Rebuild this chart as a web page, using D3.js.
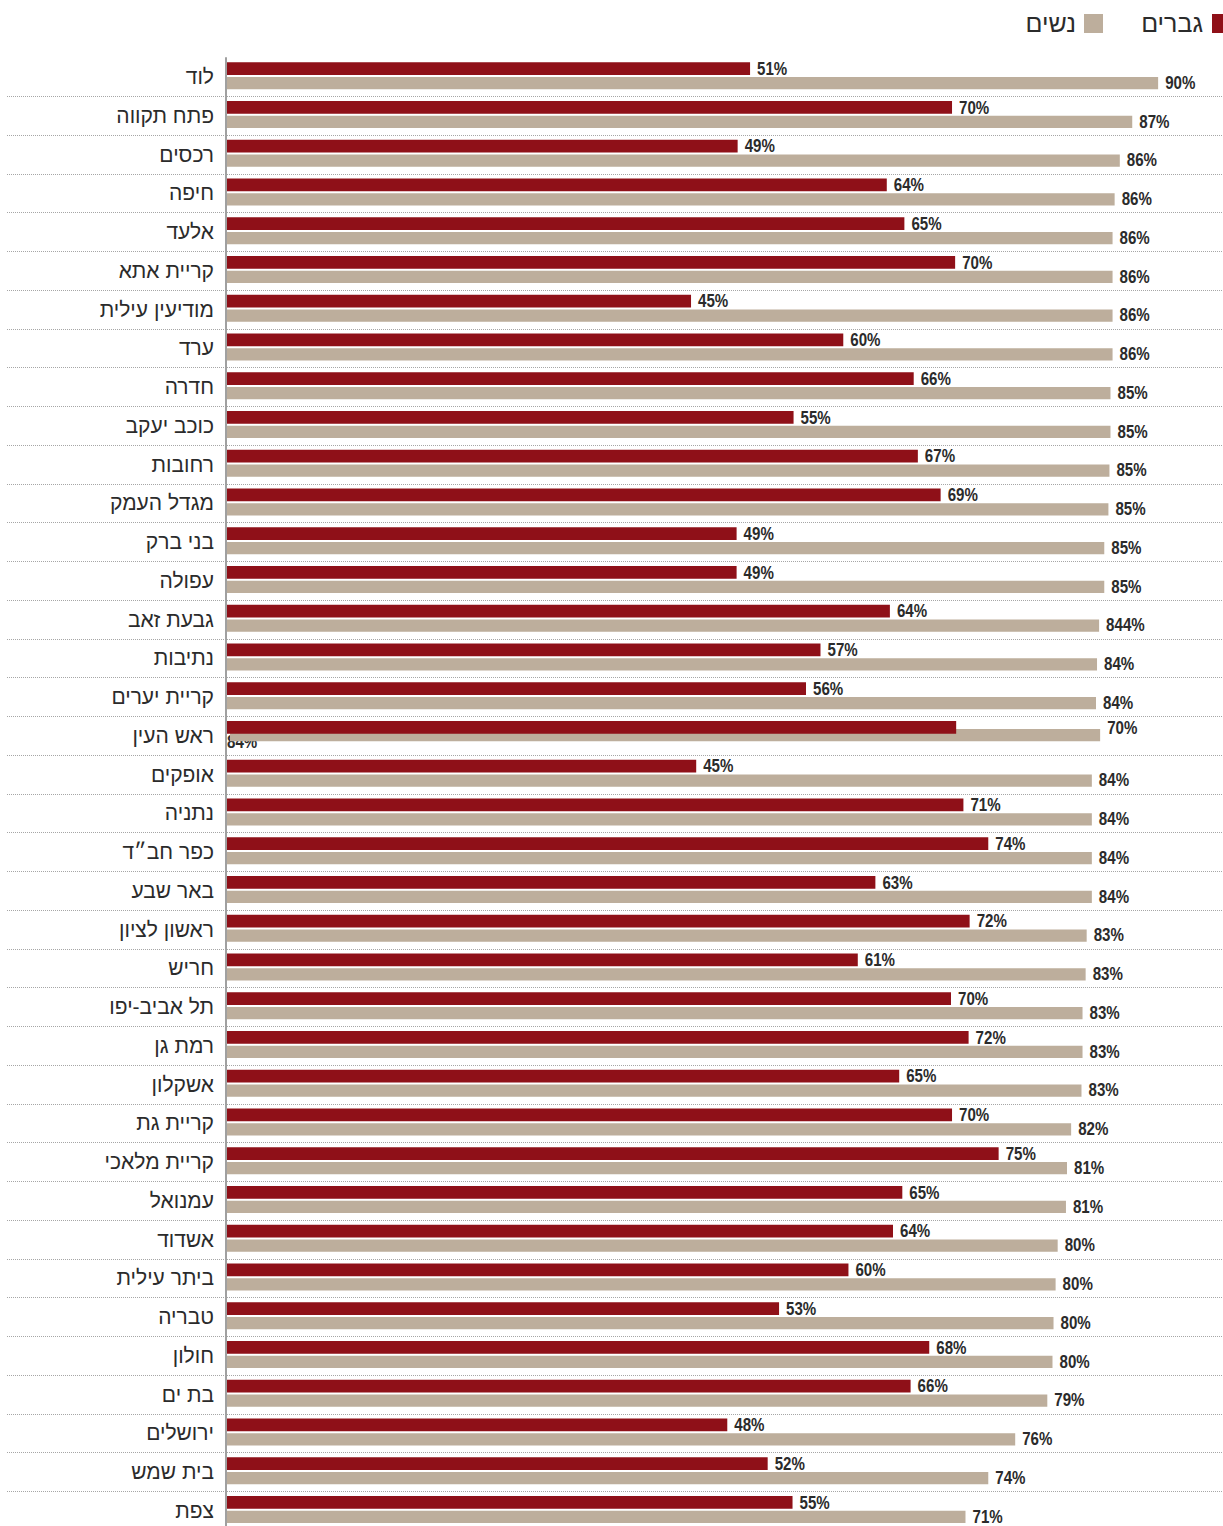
<!DOCTYPE html>
<html lang="he">
<head>
<meta charset="utf-8">
<script src="https://cdn.jsdelivr.net/npm/d3@7"></script>
<style>
  html, body { margin: 0; padding: 0; background: #fff; }
  svg { display: block; }
</style>
</head>
<body>
<script>
// ---------- DATA ----------
const cities = ["לוד","פתח תקווה","רכסים","חיפה","אלעד","קריית אתא","מודיעין עילית","ערד","חדרה","כוכב יעקב",
  "רחובות","מגדל העמק","בני ברק","עפולה","גבעת זאב","נתיבות","קריית יערים","ראש העין","אופקים","נתניה",
  "כפר חב״ד","באר שבע","ראשון לציון","חריש","תל אביב-יפו","רמת גן","אשקלון","קריית גת","קריית מלאכי","עמנואל",
  "אשדוד","ביתר עילית","טבריה","חולון","בת ים","ירושלים","בית שמש","צפת"];

const menValues = [50.6,70.1,49.4,63.8,65.5,70.4,44.9,59.6,66.4,54.8,
  66.8,69.0,49.3,49.3,64.1,57.4,56.0,70.5,45.4,71.2,
  73.6,62.7,71.8,61.0,70.0,71.7,65.0,70.1,74.6,65.3,
  64.4,60.1,53.4,67.9,66.1,48.4,52.3,54.7];

const womenValues = [90.0,87.5,86.3,85.8,85.6,85.6,85.6,85.6,85.4,85.4,
  85.3,85.2,84.8,84.8,84.3,84.1,84.0,84.4,83.6,83.6,
  83.6,83.6,83.1,83.0,82.7,82.7,82.6,81.6,81.2,81.1,
  80.3,80.1,79.9,79.8,79.3,76.2,73.6,71.4];

const menLabels = ["51%","70%","49%","64%","65%","70%","45%","60%","66%","55%",
  "67%","69%","49%","49%","64%","57%","56%","70%","45%","71%",
  "74%","63%","72%","61%","70%","72%","65%","70%","75%","65%",
  "64%","60%","53%","68%","66%","48%","52%","55%"];

const womenLabels = ["90%","87%","86%","86%","86%","86%","86%","86%","85%","85%",
  "85%","85%","85%","85%","844%","84%","84%","84%","84%","84%",
  "84%","84%","83%","83%","83%","83%","83%","82%","81%","81%",
  "80%","80%","80%","80%","79%","76%","74%","71%"];

const seriesNames = ["גברים","נשים"];
const seriesColors = ["#8f1018","#bdae9c"];

// row whose labels were misplaced in the original graphic
const misplacedRow = "ראש העין";

// ---------- LAYOUT ----------
const W = 1223, H = 1526;
const axisX = 226;
const plotTop = 57.25, band = 38.75;

const svg = d3.select("body").append("svg").attr("width", W).attr("height", H);

const x = d3.scaleLinear().domain([0, 100]).range([axisX, axisX + 1035.7]);
const y = d3.scaleBand().domain(cities).range([plotTop, plotTop + band * cities.length]).padding(0);

const rows = cities.map((c, i) => ({
  city: c, i, men: menValues[i], women: womenValues[i],
  menLabel: menLabels[i], womenLabel: womenLabels[i]
}));

// dotted separators
svg.append("g").selectAll("line")
  .data(rows.slice(0, -1))
  .join("line")
  .attr("x1", 7).attr("x2", W)
  .attr("y1", d => Math.round(y(d.city) + y.bandwidth()) + 0.5)
  .attr("y2", d => Math.round(y(d.city) + y.bandwidth()) + 0.5)
  .attr("stroke", "#a6a6a6")
  .attr("stroke-width", 1)
  .attr("stroke-dasharray", "1,1");

const valFont = "'Liberation Sans', Arial, sans-serif";
const squeeze = 0.84;
function valText(sel, fx, fy) {
  sel.attr("transform", d => `translate(${fx(d)},${fy(d)}) scale(${squeeze},1)`)
    .attr("font-family", valFont).attr("font-weight", "bold")
    .attr("font-size", 18).attr("fill", "#2b2b2b");
}

// misplaced women label (drawn under the bars)
svg.append("g").selectAll("text")
  .data(rows.filter(d => d.city === misplacedRow))
  .join("text")
  .call(valText, () => x(0) + 1, d => y(d.city) + 32)
  .text(d => d.womenLabel);

// women bars
svg.append("g").selectAll("rect")
  .data(rows)
  .join("rect")
  .attr("x", d => d.city === misplacedRow ? x(0) + 4 : x(0))
  .attr("y", d => y(d.city) + (d.city === misplacedRow ? 13 : 19.75))
  .attr("width", d => x(d.women) - (d.city === misplacedRow ? x(0) + 4 : x(0)))
  .attr("height", 12.25)
  .attr("fill", seriesColors[1]);

// men bars
svg.append("g").selectAll("rect")
  .data(rows)
  .join("rect")
  .attr("x", x(0))
  .attr("y", d => y(d.city) + 5)
  .attr("width", d => x(d.men) - x(0))
  .attr("height", 12.75)
  .attr("fill", seriesColors[0]);

// value labels
svg.append("g").selectAll("text")
  .data(rows)
  .join("text")
  .call(valText, d => d.city === misplacedRow ? x(d.women) + 7 : x(d.men) + 7, d => y(d.city) + 17.5)
  .text(d => d.menLabel);

svg.append("g").selectAll("text")
  .data(rows.filter(d => d.city !== misplacedRow))
  .join("text")
  .call(valText, d => x(d.women) + 7, d => y(d.city) + 31.5)
  .text(d => d.womenLabel);

// category axis
const axis = d3.axisLeft(y).tickSize(0).tickSizeOuter(0).tickPadding(12);
const gAxis = svg.append("g").attr("transform", `translate(${axisX},0)`).call(axis);
gAxis.select(".domain").remove();
gAxis.selectAll("text")
  .attr("font-family", "'Liberation Sans', Arial, sans-serif")
  .attr("font-size", 21)
  .attr("fill", "#2b2b2b")
  .attr("dy", "0.36em");

svg.append("line")
  .attr("x1", axisX).attr("x2", axisX)
  .attr("y1", plotTop).attr("y2", H)
  .attr("stroke", "#a0a0a0").attr("stroke-width", 2);

// legend
const legend = svg.append("g");
const legendItems = [
  { name: seriesNames[0], color: seriesColors[0], rx: 1212, tx: 1203 },
  { name: seriesNames[1], color: seriesColors[1], rx: 1084, tx: 1076 }
];
legendItems.forEach(it => {
  legend.append("rect").attr("x", it.rx).attr("y", 14).attr("width", 19).attr("height", 19).attr("fill", it.color);
  legend.append("text").attr("x", it.tx).attr("y", 32)
    .attr("text-anchor", "end")
    .attr("font-family", "'Liberation Sans', Arial, sans-serif")
    .attr("font-size", 25).attr("fill", "#2b2b2b")
    .text(it.name);
});
</script>
</body>
</html>
